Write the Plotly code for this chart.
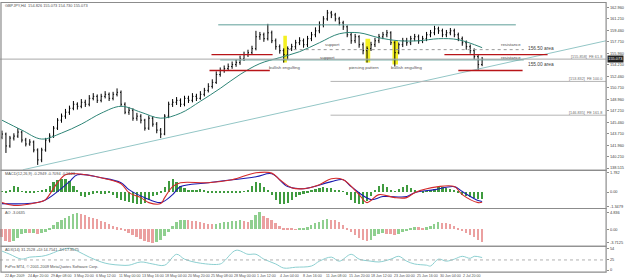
import plotly.graph_objects as go

W, H = 625, 280

# ---------------- data ----------------
close = [143.68, 141.87, 143.07, 143.37, 143.98, 142.77, 142.17, 142.47, 141.26, 139.75,
         141.26, 142.77, 143.37, 144.58, 145.79, 146.40, 147.00, 147.60, 148.21, 147.90,
         148.51, 148.21, 149.11, 149.41, 148.81, 149.41, 149.72, 149.11, 149.72, 150.02,
         148.21, 147.00, 147.30, 146.09, 146.40, 145.79, 144.58, 146.09, 145.19, 144.28,
         143.68, 146.40, 148.21, 148.51, 148.81, 148.21, 149.11, 148.81, 149.41, 149.11,
         149.72, 150.32, 150.92, 151.53, 152.73, 153.34, 153.64, 153.94, 154.24, 154.54,
         155.15, 155.75, 156.05, 156.66, 158.47, 158.77, 158.17, 159.07, 157.86, 156.96,
         156.36, 155.75, 156.66, 156.96, 157.56, 157.86, 157.26, 158.17, 158.77, 159.37,
         160.28, 161.18, 162.09, 161.79, 161.18, 160.58, 159.98, 158.77, 157.86, 158.47,
         157.26, 156.36, 156.66, 157.26, 157.86, 158.47, 158.77, 159.07, 157.56, 156.05,
         157.26, 157.86, 157.56, 158.17, 158.47, 157.86, 158.17, 158.77, 159.07, 159.67,
         159.37, 158.77, 159.07, 159.37, 158.77, 158.17, 157.56, 156.96, 156.36, 155.45,
         154.24, 155.07]
high = [144.20, 143.90, 143.40, 143.80, 144.58, 144.20, 143.10, 142.90, 142.70, 141.50,
        141.60, 143.10, 143.80, 144.90, 146.10, 146.80, 147.50, 148.00, 148.70, 148.50,
        149.00, 148.90, 149.60, 149.90, 149.70, 149.80, 150.20, 150.00, 150.10, 150.62,
        150.30, 148.50, 147.80, 147.60, 146.90, 146.70, 146.00, 146.50, 146.40, 145.50,
        144.60, 146.70, 148.60, 149.00, 149.30, 149.10, 149.50, 149.50, 149.90, 149.80,
        150.20, 150.70, 151.40, 152.00, 153.20, 153.80, 154.10, 154.40, 154.70, 155.00,
        155.60, 156.20, 156.50, 157.10, 159.37, 159.20, 159.10, 160.43, 159.40, 158.20,
        157.30, 156.70, 157.00, 157.40, 158.00, 158.40, 158.20, 158.60, 159.20, 159.90,
        160.80, 161.60, 162.54, 162.40, 162.10, 161.50, 160.90, 160.20, 159.10, 158.90,
        158.70, 157.60, 157.00, 157.70, 158.30, 158.90, 159.20, 159.50, 159.30, 157.80,
        157.60, 158.30, 158.30, 158.60, 158.90, 158.80, 158.60, 159.20, 159.50, 160.13,
        160.00, 159.70, 159.50, 159.80, 159.70, 159.10, 158.50, 157.90, 157.30, 156.70,
        155.70, 155.40]
low = [142.90, 140.81, 141.60, 142.70, 143.10, 142.40, 141.80, 141.90, 140.90, 138.99,
       139.40, 141.00, 142.40, 143.10, 144.30, 145.40, 146.00, 146.60, 147.30, 147.40,
       147.60, 147.80, 147.90, 148.80, 148.40, 148.50, 149.10, 148.70, 148.80, 149.40,
       147.90, 146.70, 146.60, 145.70, 145.70, 145.30, 144.20, 144.30, 144.80, 143.80,
       143.07, 143.50, 146.10, 147.80, 148.10, 147.80, 147.90, 148.40, 148.50, 148.70,
       148.90, 149.40, 150.00, 150.60, 151.30, 152.40, 153.00, 153.30, 153.60, 153.90,
       154.20, 154.80, 155.40, 155.70, 156.40, 158.00, 157.70, 157.90, 157.50, 156.50,
       155.90, 154.54, 155.00, 156.30, 156.60, 157.20, 156.80, 156.90, 157.80, 158.40,
       159.00, 159.90, 160.90, 161.30, 160.80, 160.20, 159.50, 158.40, 157.40, 157.50,
       156.80, 155.80, 154.54, 156.30, 156.90, 157.50, 158.10, 158.40, 157.20, 153.94,
       155.80, 156.90, 157.10, 157.20, 157.80, 157.40, 157.50, 157.80, 158.40, 158.70,
       158.90, 158.40, 158.40, 158.70, 158.40, 157.80, 157.10, 156.50, 155.90, 155.00,
       153.34, 154.00]
first_open = 143.20
open_ = [first_open] + close[:-1]
bars = list(range(len(close)))

ma_bar = [0, 5, 10, 15, 20, 25, 30, 35, 40, 45, 50, 55, 60, 65, 70, 75, 80, 85, 90, 95,
          100, 105, 110, 115, 121]
ma_val = [145.79, 144.28, 142.92, 143.83, 145.19, 146.85, 147.90, 147.00, 146.09, 146.85,
          148.66, 150.62, 152.73, 154.39, 155.30, 156.20, 157.56, 158.92, 159.07, 158.32,
          157.86, 157.86, 158.17, 158.02, 156.81]

trend_bar = [5.25, 152.25]
trend_val = [138.25, 157.86]

macd_hist = [0.05, -0.05, 0.18, 0.55, 0.46, 0.05, -0.09, -0.09, -0.05, 0.05,
             0.18, 0.28, 0.55, 0.92, 1.10, 1.20, 1.15, 1.01, 0.55, 0.09,
             -0.37, -0.46, -0.28, -0.18, -0.14, -0.18, -0.18, -0.14, -0.28, -0.55,
             -0.74, -0.83, -0.92, -1.01, -1.10, -1.15, -1.01, -0.74, -0.37, -0.28,
             -0.09, 0.46, 1.01, 1.15, 0.92, 0.55, 0.37, 0.14, 0.09, 0.18,
             0.23, 0.14, -0.05, -0.09, -0.09, -0.14, -0.09, -0.09, -0.05, -0.09,
             -0.05, 0.05, 0.18, 0.55, 0.87, 0.83, 0.46, 0.18, -0.28, -0.74,
             -1.10, -1.15, -1.01, -0.74, -0.46, -0.28, -0.18, -0.09, 0.09, 0.28,
             0.37, 0.41, 0.37, 0.32, 0.18, 0.09, 0.05, -0.28, -0.74, -1.01,
             -1.15, -1.10, -0.83, -0.37, 0.18, 0.55, 0.69, 0.46, 0.09, 0.05,
             0.28, 0.46, 0.64, 0.37, 0.09, 0.05, -0.05, 0.05, 0.09, 0.28,
             0.41, 0.41, 0.37, 0.28, 0.09, -0.09, -0.28, -0.37, -0.46, -0.55,
             -0.64, -0.69]
macd_main_bar = [0, 3, 10, 11, 14, 16, 19, 25, 30, 32, 35, 37, 40, 41, 43, 45, 52, 58, 64, 68,
                 70, 73, 76, 80, 83, 86, 90, 92, 95, 99, 102, 104, 110, 114, 116, 120, 121]
macd_main = [-0.98, -1.25, -0.88, -0.70, 0.86, 1.60, 1.69, 1.32, 0.77, -0.06,
             -0.52, -0.98, -1.07, -0.52, 0.50, 0.86, 0.86, 1.14, 1.78, 1.75,
             1.14, 0.40, 0.31, 0.68, 1.23, 1.14, -0.24, -0.98, -0.24, -0.52,
             -0.52, -0.06, 0.50, 0.50, -0.24, -0.98, -0.95]
macd_sig_bar = [0, 10, 14, 17, 19, 25, 30, 32, 36, 40, 43, 45, 52, 64, 68, 72, 76, 83, 86, 88,
                93, 96, 102, 104, 109, 114, 116, 120, 121]
macd_signal = [-1.07, -0.88, 0.04, 0.96, 1.60, 1.32, 0.86, 0.22, -0.52, -0.98,
               -0.24, 0.50, 0.86, 1.42, 1.69, 0.50, 0.31, 0.96, 1.14, 0.50,
               -0.70, -0.42, -0.42, -0.06, 0.22, 0.50, 0.04, -0.79, -0.88]

ao = [-2.28, -3.42, -3.71, -3.42, -2.57, -1.43, -1.14, -1.14, -1.10, -1.43,
      -1.14, -0.86, 0.29, 1.14, 2.00, 2.57, 3.14, 3.71, 4.28, 4.56,
      4.28, 3.99, 3.42, 3.14, 2.85, 2.28, 2.00, 1.43, 0.86, 0.57,
      0.29, -0.57, -1.14, -1.71, -2.28, -2.85, -3.42, -3.71, -3.99, -3.71,
      -3.14, -2.00, -0.86, 0.86, 2.00, 2.57, 2.71, 2.57, 2.42, 2.28,
      2.00, 1.71, 1.43, 1.40, 1.57, 1.71, 2.00, 2.14, 2.28, 2.42,
      2.57, 2.28, 2.00, 2.57, 3.99, 4.84, 3.71, 3.14, 2.57, 1.71,
      0.86, 0.29, 0.14, 0.12, -0.14, 0.14, 0.29, 0.57, 1.14, 1.71,
      2.14, 2.57, 2.85, 2.80, 2.57, 2.00, 1.14, 0.29, -0.86, -1.71,
      -2.57, -3.14, -3.42, -3.14, -2.00, -1.43, -1.14, -1.20, -1.43, -1.71,
      -1.43, -0.86, -0.29, 0.29, 0.57, 0.55, 0.43, 0.57, 0.86, 1.43,
      2.00, 1.85, 1.71, 1.43, 0.86, 0.29, -0.57, -1.14, -1.71, -2.28,
      -3.14, -3.71]

adx_bar = [0, 2, 5, 7, 10, 12, 14, 17, 19, 22, 25, 27, 30, 32, 35, 38, 41, 44, 46, 50,
           55, 56, 59, 62, 64, 66, 69, 71, 74, 78, 80, 83, 85, 88, 90, 93, 95, 98, 100, 102,
           104, 107, 108, 110, 112, 114, 116, 118, 119, 121]
adx = [47, 39, 27, 32, 34, 39, 47, 54, 47, 32, 20, 15, 12, 12, 20, 15, 12, 39, 27, 17,
       15, 22, 49, 39, 39, 27, 15, 5, 7, 10, 22, 32, 22, 39, 27, 22, 20, 27, 34, 22,
       15, 12, 10, 27, 22, 27, 34, 29, 34, 31]

price_ticks = [162.960, 161.210, 159.460, 157.710, 155.960, 154.210, 152.460, 150.710,
               148.960, 147.210, 145.460, 143.710, 141.960, 140.210, 138.515]
macd_ticks = [1.782, 0.0, -1.3479]
macd_tick_text = ["1.782", "0.00", "-1.3479"]
ao_ticks = [4.836, 0.0, -3.7125]
ao_tick_text = ["4.836", "0.00", "-3.7125"]
adx_ticks = [54, 25, 0]

date_labels = ["22 Apr 2009", "24 Apr 20:00", "29 Apr 08:00", "3 May 20:00", "6 May 12:00",
               "11 May 00:00", "13 May 16:00", "18 May 04:00", "20 May 20:00", "25 May 08:00",
               "28 May 00:00", "1 Jun 12:00", "4 Jun 04:00", "8 Jun 16:00", "11 Jun 08:00",
               "15 Jun 20:00", "18 Jun 12:00", "23 Jun 00:00", "25 Jun 16:00", "30 Jun 04:00",
               "2 Jul 20:00"]

# horizontal drawn levels: (from bar, to bar, price)
teal_levels = [(54.5, 129.5, 160.28), (55.0, 131.5, 154.95)]
red_levels = [(52.8, 68.2, 155.75), (52.3, 67.5, 153.34), (111.5, 137.5, 155.75), (115.0, 131.2, 153.34)]
dotted_levels = [(72.0, 131.5, 156.51)]
fe_levels = [(82.8, 152.25, 151.68), (82.8, 152.25, 146.55)]
yellow_boxes = [(70.9, 71.8, 154.54, 158.62), (91.6, 92.8, 154.54, 158.17), (98.4, 99.8, 154.24, 157.86)]

# ---------------- figure ----------------
def pv(px):
    return 1 - px / H

def ph(px):
    return px / W

FONT = "Liberation Sans"
TXT = "#505050"
fs = 4.3
fs_date = 3.6

fig = go.Figure()

fig.add_trace(go.Ohlc(x=bars, open=open_, high=high, low=low, close=close,
                      increasing=dict(line=dict(color="black", width=1)),
                      decreasing=dict(line=dict(color="black", width=1)),
                      tickwidth=0.25, xaxis="x", yaxis="y", hoverinfo="skip"))
fig.add_trace(go.Scatter(x=ma_bar, y=ma_val, mode="lines", line=dict(color="#2f8577", width=1, shape="spline"),
                         xaxis="x", yaxis="y", hoverinfo="skip"))
fig.add_trace(go.Scatter(x=trend_bar, y=trend_val, mode="lines", line=dict(color="#93c6c6", width=1),
                         xaxis="x", yaxis="y", hoverinfo="skip", cliponaxis=True))

fig.add_trace(go.Bar(x=bars, y=macd_hist, marker=dict(color="#3f9b3f", line=dict(width=0)), width=0.55,
                     xaxis="x", yaxis="y2", hoverinfo="skip"))
fig.add_trace(go.Scatter(x=macd_sig_bar, y=macd_signal, mode="lines", line=dict(color="#1b1bb0", width=1.1, shape="spline"),
                         xaxis="x", yaxis="y2", hoverinfo="skip"))
fig.add_trace(go.Scatter(x=macd_main_bar, y=macd_main, mode="lines", line=dict(color="#d42a2a", width=1.1, shape="spline"),
                         xaxis="x", yaxis="y2", hoverinfo="skip"))

ao_colors = ["#8fcf8f" if (i > 0 and ao[i] > ao[i - 1]) else "#eba0a0" for i in range(len(ao))]
fig.add_trace(go.Bar(x=bars, y=ao, marker=dict(color=ao_colors, line=dict(width=0)), width=0.5,
                     xaxis="x", yaxis="y3", hoverinfo="skip"))

fig.add_trace(go.Scatter(x=adx_bar, y=adx, mode="lines", line=dict(color="#8ccfd0", width=1, shape="spline"),
                         xaxis="x", yaxis="y4", hoverinfo="skip"))

shapes = []
for x0, x1, p in teal_levels:
    shapes.append(dict(type="line", xref="x", yref="y", x0=x0, x1=x1, y0=p, y1=p,
                       line=dict(color="#5e9f98", width=1)))
for x0, x1, p in red_levels:
    shapes.append(dict(type="line", xref="x", yref="y", x0=x0, x1=x1, y0=p, y1=p,
                       line=dict(color="#b81418", width=1.3)))
for x0, x1, p in dotted_levels:
    shapes.append(dict(type="line", xref="x", yref="y", x0=x0, x1=x1, y0=p, y1=p,
                       line=dict(color="#9a9a9a", width=1, dash="dot")))
for x0, x1, p in fe_levels:
    shapes.append(dict(type="line", xref="x", yref="y", x0=x0, x1=x1, y0=p, y1=p,
                       line=dict(color="#b4b4b4", width=1)))
for x0, x1, p0, p1 in yellow_boxes:
    shapes.append(dict(type="rect", xref="x", yref="y", x0=x0, x1=x1, y0=p0, y1=p1,
                       fillcolor="#f4f020", line=dict(width=0), layer="below"))
# bid line
shapes.append(dict(type="line", xref="paper", yref="y", x0=0, x1=ph(611), y0=close[-1], y1=close[-1],
                   line=dict(color="#a8a8a8", width=1)))
# ADX 25 level
shapes.append(dict(type="line", xref="paper", yref="y4", x0=0, x1=ph(611), y0=25, y1=25,
                   line=dict(color="#b0b0b0", width=1, dash="dot")))
# panel frames
for top, bot in [(1.5, 170.5), (170.5, 209), (209, 247), (247, 273)]:
    shapes.append(dict(type="rect", xref="paper", yref="paper", x0=ph(1), x1=ph(611), y0=pv(bot), y1=pv(top),
                       line=dict(color="#8c8c8c", width=1.2), fillcolor="rgba(0,0,0,0)"))

annotations = []
def note(text, x, y, xanchor="center", xref="x", yref="y", size=fs, color=TXT, **kw):
    annotations.append(dict(text=text, x=x, y=y, xref=xref, yref=yref, xanchor=xanchor, yanchor="middle",
                            showarrow=False, font=dict(family=FONT, size=size, color=color), **kw))

note("support", 83.3, 157.26)
note("support", 82.0, 155.30)
note("bullish engulfing", 71.3, 153.79)
note("piercing pattern", 91.3, 153.79)
note("bullish engulfing", 102.0, 153.79)
note("resistance", 128.3, 157.26)
note("resistance", 128.3, 155.30)
note("156.50 area", 135.8, 156.66, size=4.8, color="#404040")
note("155.00 area", 135.8, 154.24, size=4.8, color="#404040")
note("[155.858]  FE 61.8", 151.8, 155.45, xanchor="right", color="#707070", size=3.8)
note("[153.832]  FE 100.0", 151.8, 151.98, xanchor="right", color="#707070", size=3.8)
note("[146.835]  FE 161.8", 151.8, 146.85, xanchor="right", color="#707070", size=3.8)

note("GBPJPY,H4  154.826 155.073 154.730 155.073", ph(3), pv(4.5), xanchor="left", xref="paper", yref="paper", size=3.9)
note("MACD(12,26,9) -0.2949 -0.7094 -0.5123", ph(3), pv(174), xanchor="left", xref="paper", yref="paper", size=3.9)
note("AO -3.0635", ph(3), pv(213), xanchor="left", xref="paper", yref="paper", size=3.9)
note("ADX(14) 31.2528 +DI:14.7541 -DI:17.8575", ph(3), pv(250), xanchor="left", xref="paper", yref="paper", size=3.9)
note("FxPro MT4, © 2001-2009 MetaQuotes Software Corp.", ph(3), pv(267.5), xanchor="left", xref="paper", yref="paper", size=3.9)

# current price box
annotations.append(dict(text="155.073", x=ph(611.5), y=close[-1], xref="paper", yref="y", xanchor="left",
                        yanchor="middle", showarrow=False, bgcolor="#202020", borderpad=0.3,
                        font=dict(family=FONT, size=3.9, color="white")))

# date labels (one every 16 H4 bars)
label_step = 5.775
for k, t in enumerate(date_labels):
    note(t, 0.2 + label_step * k, pv(276.5), xanchor="left", yref="paper", size=fs_date)

tick_font = dict(family=FONT, size=3.9, color="#404040")
axis_common = dict(side="right", anchor="x", showgrid=False, zeroline=False, showline=False,
                   ticks="outside", ticklen=2, tickcolor="#8c8c8c", tickfont=tick_font, fixedrange=True)

fig.update_layout(
    width=W, height=H,
    margin=dict(l=0, r=0, t=0, b=0),
    paper_bgcolor="white", plot_bgcolor="white",
    showlegend=False,
    bargap=0,
    xaxis=dict(domain=[0, ph(611)], range=[-0.5, 152.25], anchor="y4", showticklabels=False,
               showgrid=False, zeroline=False, ticks="", rangeslider=dict(visible=False), fixedrange=True),
    yaxis=dict(domain=[pv(170), pv(2)], range=[138.25, 163.60], tickvals=price_ticks,
               ticktext=[f"{v:.3f}" for v in price_ticks], **axis_common),
    yaxis2=dict(domain=[pv(208.5), pv(171.5)], range=[-1.48, 1.92], tickvals=macd_ticks,
                ticktext=macd_tick_text, **axis_common),
    yaxis3=dict(domain=[pv(246.5), pv(209.5)], range=[-4.70, 5.84], tickvals=ao_ticks,
                ticktext=ao_tick_text, **axis_common),
    yaxis4=dict(domain=[pv(272.5), pv(247.5)], range=[-3.7, 57.7], tickvals=adx_ticks,
                ticktext=[str(v) for v in adx_ticks], **axis_common),
    shapes=shapes,
    annotations=annotations,
)

fig.write_html("out.html")
